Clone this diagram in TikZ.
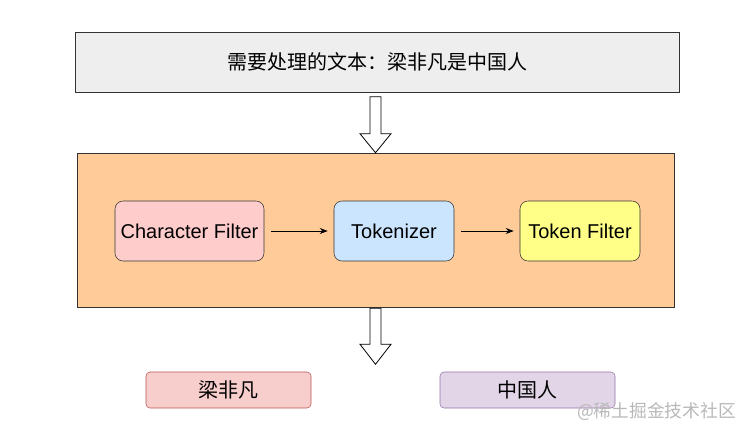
\documentclass[tikz,border=0pt]{standalone}
\usepackage{fontspec}
\setmainfont{Liberation Sans}
\newfontfamily\cjk{Noto Sans CJK SC}
\usetikzlibrary{arrows.meta,positioning,calc}
\definecolor{Frame}{HTML}{333333}
\definecolor{Input}{HTML}{EEEEEE}
\definecolor{Orange}{HTML}{FFCC99}
\definecolor{Pink}{HTML}{FFCCCC}
\definecolor{Sky}{HTML}{CCE5FF}
\definecolor{Lemon}{HTML}{FFFF88}
\definecolor{RedFill}{HTML}{F8CECC}
\definecolor{RedLine}{HTML}{B85450}
\definecolor{PurpFill}{HTML}{E1D5E7}
\definecolor{PurpLine}{HTML}{9673A6}
\tikzset{
  stagebox/.style={draw=Frame,rounded corners=6pt,minimum height=45pt,inner sep=0pt},
  wordbox/.style={rounded corners=3pt,minimum height=27pt,inner sep=0pt,font=\cjk\fontsize{15}{17}\selectfont},
  flow/.style={-{Stealth[length=6pt,width=4.5pt]},semithick},
  blockarrow/.style={draw=black,fill=white,line width=0.6pt},
}

\begin{document}
\begin{tikzpicture}[x=0.75pt,y=-0.75pt,font=\fontsize{15}{17}\selectfont]
    \useasboundingbox (0,0) rectangle (753,436);
    \node[draw=Frame,fill=Input,minimum width=453pt,minimum height=45pt,font=\cjk\fontsize{15}{17}\selectfont] (text) at (377,62) {需要处理的文本：梁非凡是中国人};
    \node[draw=Frame,fill=Orange,minimum width=447.75pt,minimum height=115.5pt] (analyzer) at (375.5,230) {};
    \node[stagebox,fill=Pink,minimum width=111.75pt] (charfilter) at (189.5,231) {Character Filter};
    \node[stagebox,fill=Sky,minimum width=90pt] (tokenizer) at (394,231) {Tokenizer};
    \node[stagebox,fill=Lemon,minimum width=90pt] (tokenfilter) at (580,231) {Token Filter};
    \node[wordbox,draw=RedLine,fill=RedFill,minimum width=123.75pt] (word1) at (228.5,390) {梁非凡};
    \node[wordbox,draw=PurpLine,fill=PurpFill,minimum width=131.25pt] (word2) at (527.5,390) {中国人};
    \node[text=black!28,font=\cjk\fontsize{13.3}{15}\selectfont,anchor=east,inner sep=0pt] (mark) at (736,411) {@稀土掘金技术社区};
    \draw[flow] ($(charfilter.east)+(7,0)$) -- ($(tokenizer.west)+(-6,0)$);
    \draw[flow] ($(tokenizer.east)+(7,0)$) -- ($(tokenfilter.west)+(-6,0)$);
    % hollow arrows between the stages
    \coordinate (tip1) at (analyzer.north);
    \coordinate (tip2) at ($(analyzer.south)+(0,57)$);
    \draw[blockarrow] ($(tip1)+(-5.5,-56)$) -- ++(11,0) -- ++(0,37) -- ++(10,0) -- (tip1) -- ++(-15.5,-19) -- ++(10,0) -- cycle;
    \draw[blockarrow] (analyzer.south) ++(-5.5,1) -- ++(11,0) -- ++(0,36) -- ++(10,0) -- (tip2) -- ++(-15.5,-20) -- ++(10,0) -- cycle;
\end{tikzpicture}
\end{document}
